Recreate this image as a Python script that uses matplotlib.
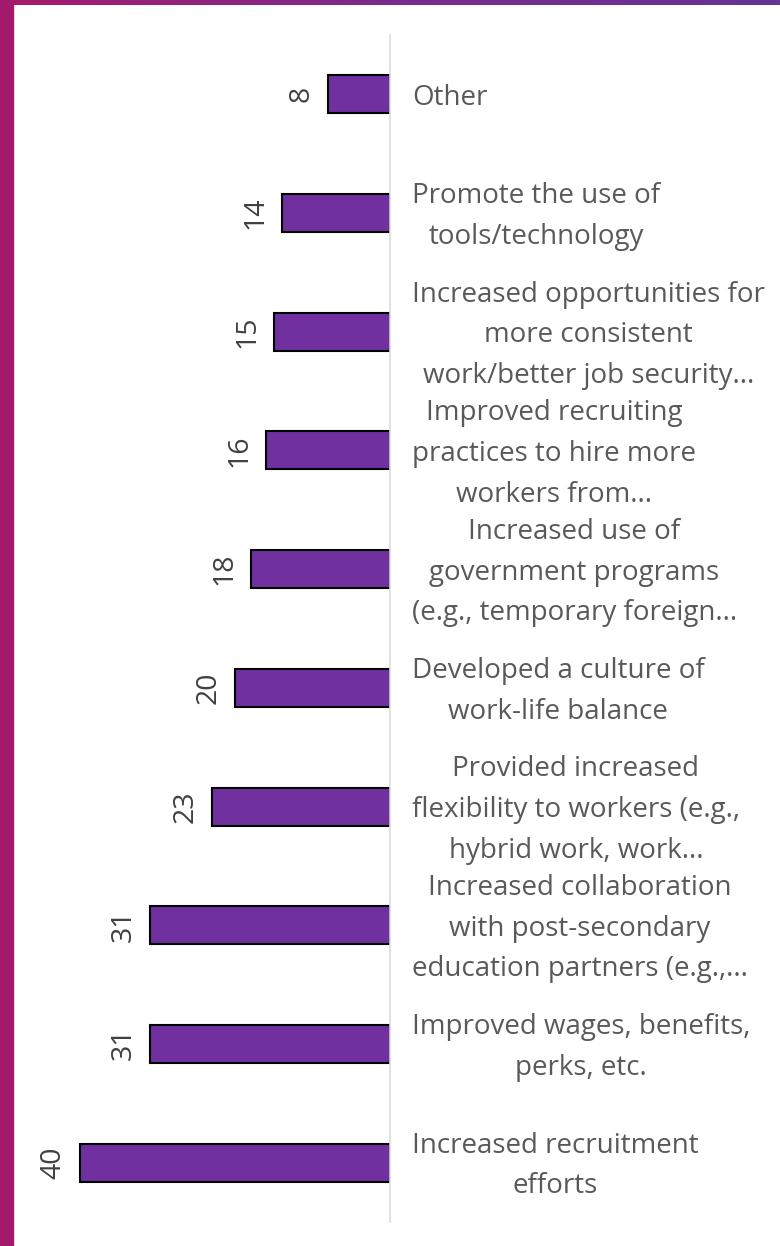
import matplotlib.pyplot as plt
import numpy as np
from matplotlib.patches import Rectangle

# bottom-to-top order, as drawn
categories = [
    "Increased recruitment\nefforts",
    "Improved wages, benefits,\nperks, etc.",
    "Increased collaboration\nwith post-secondary\neducation partners (e.g.,...",
    "Provided increased\nflexibility to workers (e.g.,\nhybrid work, work...",
    "Developed a culture of\nwork-life balance",
    "Increased use of\ngovernment programs\n(e.g., temporary foreign...",
    "Improved recruiting\npractices to hire more\nworkers from...",
    "Increased opportunities for\nmore consistent\nwork/better job security...",
    "Promote the use of\ntools/technology",
    "Other",
]
values = [40, 31, 31, 23, 20, 18, 16, 15, 14, 8]

W, H = 780, 1246
BAR = "#7030A0"
TEXT = "#595959"
plt.rcParams["font.family"] = ["Open Sans", "DejaVu Sans"]

fig = plt.figure(figsize=(W / 100, H / 100), dpi=100)

# frame: magenta strip on the left, gradient strip along the top
fig.patches.append(Rectangle((0, 0), 13 / W, 1, transform=fig.transFigure,
                             color="#A3196B", zorder=0))
grad = np.linspace(0, 1, 256).reshape(1, -1)
gax = fig.add_axes([0, 1 - 5 / H, 1, 5 / H])
gax.imshow(grad, aspect="auto",
           cmap=plt.matplotlib.colors.LinearSegmentedColormap.from_list(
               "frame", ["#A81A6C", "#7A2A8C", "#673497"]))
gax.axis("off")

# plot area: x=0 at 390px, 7.75px per unit, y from 35px to 1222px
left_px, right_px = 40, 390
ax = fig.add_axes([left_px / W, (H - 1222) / H, (right_px - left_px) / W, 1187 / H])
y = np.arange(len(values))
ax.barh(y, values, height=0.32, color=BAR, edgecolor="black", linewidth=1.5, zorder=2)
ax.set_xlim((right_px - left_px) / 7.75, 0)
ax.set_ylim(-0.5, len(values) - 0.5)
for s in ["top", "bottom", "left"]:
    ax.spines[s].set_visible(False)
ax.spines["right"].set_color("#DDDDDD")
ax.spines["right"].set_linewidth(1.2)
ax.set_xticks([])
ax.set_yticks([])
ax.patch.set_alpha(0)

for yi, v, cat in zip(y, values, categories):
    ax.annotate(str(v), xy=(v, yi), xytext=(-9, 0), textcoords="offset points",
                ha="right", va="center", rotation=90, fontsize=20.5, color="#404040")
    ax.annotate(cat, xy=(0, yi), xytext=(15.8, -2.5), textcoords="offset points",
                ha="left", va="center", multialignment="center",
                fontsize=20, color=TEXT, linespacing=1.6, annotation_clip=False)

fig.savefig("out.png", dpi=100)
